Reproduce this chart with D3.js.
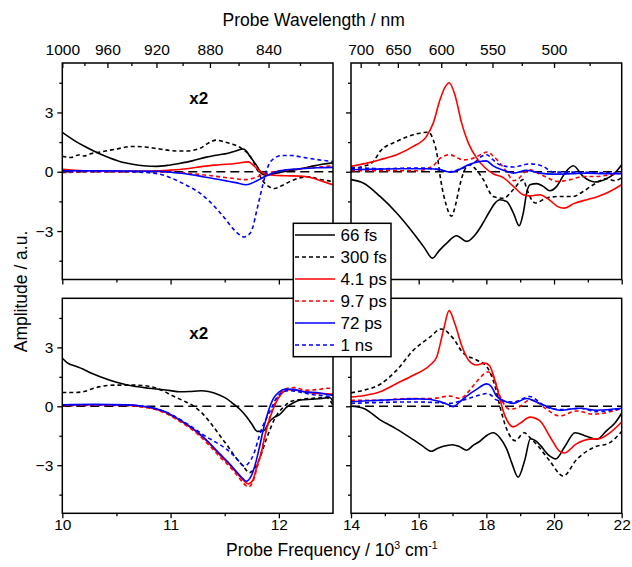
<!DOCTYPE html>
<html>
<head>
<meta charset="utf-8">
<script src="https://cdn.jsdelivr.net/npm/d3@7"></script>
<style>
  body { margin: 0; background: #fff; }
  svg { font-family: "Liberation Sans", Arial, sans-serif; }
</style>
</head>
<body>
<svg id="chart" width="632" height="567"></svg>
<script>
// Legend / series styles
const seriesNames = ['66 fs', '300 fs', '4.1 ps', '9.7 ps', '72 ps', '1 ns'];
const seriesColors = ['#000000', '#000000', '#ff0000', '#ff0000', '#0000ff', '#0000ff'];
const seriesDashed = [false, true, false, true, false, true];

// Tick values
const ampTicks = [-3, 0, 3];
const ampMinor = [-4.5, -1.5, 1.5, 4.5];
const leftFreqTicks = [10, 11, 12];
const leftFreqMinor = [10.5, 11.5];
const rightFreqTicks = [14, 16, 18, 20, 22];
const rightFreqMinor = [15, 17, 19, 21];
const leftWlTicks = [1000, 960, 920, 880, 840];
const leftWlMinor = [980, 940, 900, 860, 820];
const rightWlTicks = [700, 650, 600, 550, 500];
const rightWlMinor = [675, 625, 575, 525, 475];

// ---- top-left panel (x2), [frequency, amplitude]
const tl66 = [[10.0, 2.0], [10.05, 1.8], [10.12, 1.55], [10.2, 1.3], [10.29, 1.05], [10.4, 0.78], [10.53, 0.52], [10.65, 0.38], [10.75, 0.3], [10.87, 0.27], [10.97, 0.32], [11.08, 0.42], [11.2, 0.55], [11.33, 0.74], [11.45, 0.86], [11.52, 0.92], [11.6, 1.05], [11.67, 1.15], [11.7, 1.05], [11.73, 0.8], [11.77, 0.5], [11.8, 0.27], [11.84, -0.1], [11.88, -0.18], [11.94, -0.12], [12.02, -0.02], [12.1, 0.05], [12.2, 0.15], [12.3, 0.27], [12.4, 0.38], [12.5, 0.45]];
const tl300 = [[10.0, 0.78], [10.08, 0.72], [10.15, 0.85], [10.2, 0.8], [10.27, 0.92], [10.35, 1.0], [10.5, 1.15], [10.65, 1.28], [10.77, 1.25], [10.9, 1.15], [11.05, 1.05], [11.15, 1.05], [11.27, 1.18], [11.35, 1.45], [11.42, 1.6], [11.5, 1.5], [11.58, 1.38], [11.65, 1.2], [11.7, 1.0], [11.74, 0.75], [11.8, 0.1], [11.85, -0.45], [11.9, -0.72], [11.96, -0.85], [12.03, -0.7], [12.1, -0.5], [12.2, -0.3], [12.28, -0.25], [12.37, -0.38], [12.45, -0.45], [12.5, -0.5]];
const tl41 = [[10.0, 0.12], [10.2, 0.05], [10.5, 0.02], [10.8, 0.03], [11.0, 0.08], [11.15, 0.15], [11.3, 0.27], [11.45, 0.35], [11.6, 0.42], [11.72, 0.5], [11.77, 0.3], [11.82, 0.05], [11.87, -0.1], [11.95, -0.18], [12.05, -0.2], [12.2, -0.22], [12.3, -0.3], [12.4, -0.48], [12.5, -0.66]];
const tl97 = [[10.0, -0.05], [10.3, 0.0], [10.7, 0.0], [11.0, -0.02], [11.2, -0.1], [11.4, -0.22], [11.55, -0.32], [11.7, -0.4], [11.78, -0.3], [11.85, -0.15], [11.95, 0.0], [12.1, 0.1], [12.3, 0.2], [12.5, 0.3]];
const tl72 = [[10.0, 0.05], [10.3, 0.05], [10.6, 0.04], [10.9, 0.02], [11.1, -0.08], [11.3, -0.25], [11.5, -0.45], [11.6, -0.55], [11.7, -0.66], [11.78, -0.5], [11.85, -0.3], [11.94, -0.07], [12.05, 0.08], [12.2, 0.15], [12.35, 0.2], [12.5, 0.22]];
const tl1ns = [[10.0, 0.0], [10.4, 0.02], [10.8, -0.05], [10.95, -0.2], [11.08, -0.5], [11.18, -0.78], [11.27, -1.08], [11.35, -1.45], [11.43, -1.9], [11.5, -2.35], [11.58, -2.9], [11.64, -3.2], [11.68, -3.3], [11.72, -3.2], [11.76, -2.8], [11.79, -2.1], [11.82, -1.4], [11.85, -0.7], [11.88, -0.07], [11.91, 0.4], [11.95, 0.65], [12.03, 0.82], [12.12, 0.82], [12.2, 0.75], [12.3, 0.66], [12.4, 0.58], [12.5, 0.52]];

// ---- top-right panel
const tr66 = [[14.0, -0.4], [14.36, -0.57], [14.86, -1.25], [15.35, -2.09], [15.84, -3.1], [16.15, -3.8], [16.41, -4.37], [16.6, -4.0], [16.83, -3.61], [17.12, -3.24], [17.42, -3.52], [17.71, -3.1], [17.9, -2.6], [18.1, -2.0], [18.25, -1.6], [18.4, -1.42], [18.6, -1.5], [18.8, -2.09], [18.97, -2.73], [19.09, -2.09], [19.2, -1.0], [19.29, -0.66], [19.49, -0.6], [19.68, -0.74], [19.88, -0.96], [20.08, -0.74], [20.32, -0.07], [20.57, 0.3], [20.86, -0.24], [21.2, -0.52], [21.55, -0.35], [21.75, -0.15], [22.0, 0.35]];
const tr300 = [[14.0, 0.15], [14.36, 0.27], [14.66, 0.52], [14.86, 1.03], [15.35, 1.53], [15.84, 1.87], [16.28, 2.0], [16.43, 1.62], [16.55, 0.8], [16.65, -0.4], [16.8, -1.6], [16.97, -2.25], [17.1, -1.6], [17.2, -0.8], [17.32, -0.07], [17.5, 0.35], [17.7, 0.1], [17.91, -0.4], [18.2, -1.25], [18.5, -1.34], [18.8, -0.9], [19.09, -0.4], [19.2, -0.9], [19.35, -1.45], [19.45, -1.58], [19.78, -1.33], [20.17, -1.25], [20.57, -1.25], [20.86, -1.0], [21.16, -0.66], [21.55, -0.35], [21.8, -0.45], [22.0, -0.3]];
const tr41 = [[14.0, 0.27], [14.5, 0.45], [14.86, 0.61], [15.35, 0.86], [15.84, 1.28], [16.23, 1.79], [16.43, 2.46], [16.63, 3.64], [16.78, 4.28], [16.9, 4.5], [17.07, 3.9], [17.27, 2.46], [17.47, 1.45], [17.71, 0.7], [17.96, 0.2], [18.2, -0.1], [18.5, -0.3], [18.8, -0.74], [19.09, -1.16], [19.3, -1.22], [19.58, -1.16], [19.88, -1.45], [20.1, -1.75], [20.3, -1.84], [20.6, -1.6], [21.0, -1.4], [21.3, -1.25], [21.65, -1.0], [22.0, -0.66]];
const tr97 = [[14.0, 0.05], [14.5, 0.05], [15.0, 0.05], [15.5, 0.05], [15.94, 0.05], [16.2, 0.12], [16.43, 0.3], [16.65, 0.7], [16.92, 0.86], [17.15, 0.7], [17.32, 0.6], [17.55, 0.65], [17.75, 0.8], [18.03, 1.0], [18.2, 0.8], [18.4, 0.44], [18.6, 0.0], [18.8, -0.45], [18.95, -0.35], [19.15, 0.0], [19.29, 0.1], [19.5, -0.05], [19.8, -0.3], [20.1, -0.49], [20.47, -0.4], [20.86, -0.24], [21.26, -0.24], [21.65, -0.15], [22.0, -0.07]];
const tr72 = [[14.0, 0.1], [14.5, 0.12], [15.0, 0.14], [15.5, 0.15], [15.94, 0.15], [16.3, 0.15], [16.6, 0.12], [16.8, 0.02], [16.95, -0.02], [17.12, 0.05], [17.35, 0.25], [17.55, 0.4], [17.81, 0.52], [18.0, 0.55], [18.2, 0.3], [18.5, 0.08], [18.8, -0.07], [19.19, 0.07], [19.58, -0.07], [19.98, -0.12], [20.5, -0.1], [21.0, -0.07], [21.5, -0.1], [22.0, -0.1]];
const tr1ns = [[14.0, 0.2], [14.5, 0.18], [14.95, 0.15], [15.5, 0.18], [15.94, 0.19], [16.3, 0.17], [16.6, 0.1], [16.92, 0.0], [17.12, 0.08], [17.32, 0.19], [17.55, 0.38], [17.71, 0.55], [17.85, 0.77], [18.01, 0.86], [18.2, 0.6], [18.4, 0.35], [18.8, 0.24], [19.29, 0.4], [19.68, 0.27], [19.98, -0.02], [20.5, -0.02], [21.0, -0.03], [21.5, -0.05], [22.0, -0.07]];

// ---- bottom-left panel (x2)
const bl66 = [[10.0, 2.45], [10.05, 2.2], [10.12, 2.05], [10.19, 1.9], [10.27, 1.68], [10.35, 1.5], [10.5, 1.22], [10.65, 1.03], [10.8, 0.92], [10.9, 0.86], [11.0, 0.8], [11.08, 0.74], [11.17, 0.75], [11.28, 0.79], [11.35, 0.75], [11.45, 0.57], [11.52, 0.38], [11.58, 0.12], [11.64, -0.15], [11.7, -0.52], [11.75, -0.9], [11.8, -1.28], [11.86, -1.25], [11.91, -0.8], [11.96, -0.55], [12.0, -0.45], [12.07, -0.05], [12.13, 0.17], [12.2, 0.32], [12.3, 0.36], [12.4, 0.4], [12.47, 0.45], [12.5, 0.25]];
const bl300 = [[10.0, 0.7], [10.1, 0.7], [10.2, 0.75], [10.27, 0.88], [10.35, 1.0], [10.5, 1.08], [10.65, 1.08], [10.8, 1.02], [10.9, 0.86], [10.97, 0.68], [11.05, 0.45], [11.12, 0.28], [11.21, 0.02], [11.3, -0.4], [11.39, -1.0], [11.47, -1.6], [11.54, -2.12], [11.6, -2.6], [11.67, -3.05], [11.73, -3.38], [11.77, -3.2], [11.82, -2.7], [11.87, -1.9], [11.91, -1.3], [11.96, -0.65], [12.0, -0.3], [12.05, 0.0], [12.1, 0.22], [12.2, 0.35], [12.3, 0.4], [12.44, 0.45], [12.5, 0.05]];
const bl41 = [[10.0, 0.05], [10.3, 0.08], [10.6, 0.06], [10.75, -0.02], [10.85, -0.12], [10.95, -0.3], [11.05, -0.6], [11.15, -0.95], [11.25, -1.35], [11.35, -1.85], [11.45, -2.45], [11.55, -3.0], [11.62, -3.45], [11.67, -3.75], [11.72, -3.95], [11.76, -3.75], [11.8, -3.0], [11.84, -2.3], [11.88, -1.3], [11.92, -0.55], [11.97, 0.15], [12.02, 0.6], [12.08, 0.84], [12.15, 0.82], [12.25, 0.74], [12.35, 0.66], [12.45, 0.64], [12.5, 0.62]];
const bl97 = [[10.0, 0.02], [10.3, 0.05], [10.6, 0.03], [10.75, -0.05], [10.85, -0.15], [10.95, -0.35], [11.05, -0.65], [11.15, -1.0], [11.25, -1.42], [11.35, -1.95], [11.45, -2.55], [11.55, -3.1], [11.62, -3.55], [11.67, -3.9], [11.72, -4.1], [11.76, -3.85], [11.8, -3.1], [11.84, -2.3], [11.88, -1.3], [11.92, -0.5], [11.97, 0.25], [12.02, 0.7], [12.08, 0.92], [12.15, 0.95], [12.25, 0.82], [12.35, 0.85], [12.45, 0.92], [12.5, 0.88]];
const bl72 = [[10.0, 0.08], [10.3, 0.1], [10.6, 0.07], [10.75, 0.0], [10.85, -0.1], [10.95, -0.28], [11.05, -0.58], [11.15, -0.92], [11.25, -1.32], [11.35, -1.82], [11.45, -2.4], [11.55, -2.95], [11.62, -3.4], [11.67, -3.7], [11.7, -3.82], [11.74, -3.6], [11.78, -3.0], [11.82, -2.1], [11.86, -1.1], [11.9, -0.3], [11.95, 0.4], [12.0, 0.72], [12.07, 0.88], [12.15, 0.85], [12.25, 0.72], [12.35, 0.7], [12.45, 0.6], [12.5, 0.55]];
const bl1ns = [[10.0, 0.05], [10.3, 0.08], [10.6, 0.06], [10.75, 0.0], [10.85, -0.1], [10.95, -0.28], [11.05, -0.55], [11.15, -0.88], [11.25, -1.25], [11.33, -1.55], [11.42, -1.84], [11.52, -2.2], [11.6, -2.6], [11.64, -2.85], [11.68, -3.05], [11.72, -2.9], [11.77, -2.4], [11.82, -1.5], [11.86, -0.9], [11.9, -0.45], [11.94, 0.0], [11.97, 0.35], [12.03, 0.7], [12.1, 0.8], [12.2, 0.72], [12.3, 0.6], [12.4, 0.55], [12.5, 0.45]];

// ---- bottom-right panel
const br66 = [[14.0, 0.0], [14.36, -0.1], [14.86, -0.69], [15.35, -1.16], [15.84, -1.7], [16.1, -2.0], [16.38, -2.29], [16.55, -2.15], [16.73, -2.04], [17.0, -1.96], [17.2, -2.05], [17.42, -2.24], [17.6, -2.0], [17.81, -1.78], [18.0, -1.5], [18.2, -1.35], [18.4, -1.6], [18.6, -2.17], [18.75, -2.88], [18.94, -3.61], [19.14, -2.71], [19.3, -1.65], [19.45, -1.75], [19.59, -1.98], [19.85, -2.5], [20.05, -2.68], [20.32, -2.05], [20.62, -1.35], [20.96, -1.53], [21.26, -1.68], [21.55, -1.25], [21.8, -0.85], [22.0, -0.35]];
const br300 = [[14.0, 0.69], [14.36, 0.81], [14.86, 1.12], [15.35, 1.84], [15.84, 2.85], [16.33, 3.52], [16.67, 3.94], [17.02, 3.46], [17.32, 2.7], [17.71, 2.36], [18.01, 2.02], [18.26, 1.0], [18.4, 0.0], [18.6, -1.16], [18.85, -1.75], [19.12, -1.35], [19.29, -1.6], [19.59, -2.15], [19.88, -2.8], [20.27, -3.55], [20.67, -2.71], [21.16, -2.1], [21.65, -1.85], [22.0, -1.28]];
const br41 = [[14.0, 0.47], [14.4, 0.55], [14.86, 0.74], [15.35, 1.16], [15.84, 1.58], [16.33, 2.09], [16.53, 2.5], [16.73, 3.86], [16.9, 4.87], [17.07, 4.2], [17.27, 3.1], [17.47, 2.36], [17.71, 2.1], [17.96, 2.2], [18.1, 2.05], [18.3, 1.03], [18.54, -0.45], [18.8, -1.05], [19.0, -0.86], [19.29, -0.55], [19.59, -0.75], [19.88, -1.55], [20.17, -2.3], [20.3, -2.38], [20.67, -1.9], [21.06, -1.67], [21.35, -1.65], [21.65, -1.35], [22.0, -0.8]];
const br97 = [[14.0, 0.3], [14.5, 0.3], [15.0, 0.32], [15.5, 0.38], [15.94, 0.4], [16.4, 0.4], [16.92, 0.52], [17.22, 0.4], [17.5, 0.8], [17.71, 1.25], [18.06, 1.75], [18.2, 1.53], [18.4, 0.52], [18.7, -0.15], [18.95, -0.05], [19.29, 0.32], [19.55, 0.15], [19.78, -0.15], [20.17, -0.49], [20.67, -0.24], [21.16, -0.4], [21.75, -0.24], [22.0, -0.1]];
const br72 = [[14.0, 0.23], [14.5, 0.28], [15.0, 0.32], [15.5, 0.36], [15.94, 0.38], [16.3, 0.36], [16.6, 0.25], [16.92, 0.05], [17.02, -0.02], [17.2, 0.2], [17.42, 0.52], [17.71, 0.86], [18.01, 1.14], [18.15, 1.0], [18.3, 0.52], [18.6, 0.22], [18.8, 0.15], [19.19, 0.4], [19.5, 0.2], [19.78, 0.0], [20.17, -0.2], [20.77, -0.1], [21.26, -0.2], [22.0, -0.1]];
const br1ns = [[14.0, 0.15], [14.5, 0.18], [15.0, 0.2], [15.5, 0.22], [15.94, 0.22], [16.4, 0.2], [16.92, 0.15], [17.32, 0.32], [17.71, 0.52], [18.01, 0.65], [18.15, 0.55], [18.3, 0.32], [18.8, 0.22], [19.29, 0.5], [19.5, 0.3], [19.78, -0.05], [20.27, -0.17], [20.77, -0.1], [21.26, -0.27], [22.0, -0.12]];

const svg = d3.select('#chart');
const ampDomain = [-5.45, 5.5];
const tickFont = '15.5px';

// Panel layout
const panels = [
    { id: 'tl', data: [tl66, tl300, tl41, tl97, tl72, tl1ns], x: [62.3, 333], y: [63, 279.5], dom: [10, 12.5],
      major: leftFreqTicks, minor: leftFreqMinor, wl: leftWlTicks, wlMinor: leftWlMinor, top: true, left: true, x2: true },
    { id: 'tr', data: [tr66, tr300, tr41, tr97, tr72, tr1ns], x: [351, 621.7], y: [63, 279.5], dom: [14, 22],
      major: rightFreqTicks, minor: rightFreqMinor, wl: rightWlTicks, wlMinor: rightWlMinor, top: true, left: false },
    { id: 'bl', data: [bl66, bl300, bl41, bl97, bl72, bl1ns], x: [62.3, 333], y: [298.3, 513.3], dom: [10, 12.5],
      major: leftFreqTicks, minor: leftFreqMinor, top: false, left: true, x2: true },
    { id: 'br', data: [br66, br300, br41, br97, br72, br1ns], x: [351, 621.7], y: [298.3, 513.3], dom: [14, 22],
      major: rightFreqTicks, minor: rightFreqMinor, top: false, left: false }
];

function styleAxis(g) {
    g.select('.domain').remove();
    g.selectAll('line').attr('stroke', '#000').attr('stroke-width', 1.3);
    g.selectAll('text').attr('fill', '#000').style('font-size', tickFont);
}

panels.forEach(p => {
    const xScale = d3.scaleLinear().domain(p.dom).range(p.x);
    const yScale = d3.scaleLinear().domain(ampDomain).range([p.y[1], p.y[0]]);
    const w = p.x[1] - p.x[0], h = p.y[1] - p.y[0];

    svg.append('clipPath').attr('id', 'clip-' + p.id)
        .append('rect').attr('x', p.x[0]).attr('y', p.y[0]).attr('width', w).attr('height', h);

    // zero line
    svg.append('line')
        .attr('x1', p.x[0]).attr('x2', p.x[1])
        .attr('y1', yScale(0)).attr('y2', yScale(0))
        .attr('stroke', '#000').attr('stroke-width', 1.6)
        .attr('stroke-dasharray', '9,5');

    const line = d3.line()
        .x(d => xScale(d[0]))
        .y(d => yScale(d[1]))
        .curve(d3.curveMonotoneX);

    const g = svg.append('g').attr('clip-path', `url(#clip-${p.id})`);
    p.data.forEach((s, i) => {
        g.append('path')
            .datum(s)
            .attr('fill', 'none')
            .attr('stroke', seriesColors[i])
            .attr('stroke-width', 1.6)
            .attr('stroke-dasharray', seriesDashed[i] ? '4,3' : null)
            .attr('d', line);
    });

    // frame
    svg.append('rect')
        .attr('x', p.x[0]).attr('y', p.y[0]).attr('width', w).attr('height', h)
        .attr('fill', 'none').attr('stroke', '#000').attr('stroke-width', 1.5);

    // bottom axis (outward ticks)
    svg.append('g').attr('transform', `translate(0,${p.y[1]})`)
        .call(d3.axisBottom(xScale).tickValues(p.major).tickSize(5).tickPadding(1)
            .tickFormat(p.top ? '' : d3.format('d')))
        .call(styleAxis);
    svg.append('g').attr('transform', `translate(0,${p.y[1]})`)
        .call(d3.axisBottom(xScale).tickValues(p.minor).tickSize(3).tickFormat(''))
        .call(styleAxis);

    // left axis (outward ticks)
    svg.append('g').attr('transform', `translate(${p.x[0]},0)`)
        .call(d3.axisLeft(yScale).tickValues(ampTicks).tickSize(5).tickPadding(4)
            .tickFormat(p.left ? d3.format('d') : ''))
        .call(styleAxis);
    svg.append('g').attr('transform', `translate(${p.x[0]},0)`)
        .call(d3.axisLeft(yScale).tickValues(ampMinor).tickSize(3).tickFormat(''))
        .call(styleAxis);

    // top wavelength axis (inward ticks)
    if (p.top) {
        const wlScale = d3.scaleLinear().domain(p.dom.map(v => 10000 / v)).range(p.x);
        const toX = nm => xScale(10000 / nm);
        const wlAxis = d3.axisTop(d3.scaleIdentity().domain([0, 632]))
            .tickValues(p.wl.map(toX)).tickSize(-5).tickPadding(8)
            .tickFormat((d, i) => p.wl[i]);
        svg.append('g').attr('transform', `translate(0,${p.y[0]})`).call(wlAxis).call(styleAxis);
        svg.append('g').attr('transform', `translate(0,${p.y[0]})`)
            .call(d3.axisTop(d3.scaleIdentity().domain([0, 632]))
                .tickValues(p.wlMinor.map(toX)).tickSize(-3).tickFormat(''))
            .call(styleAxis);
    }

    if (p.x2) {
        svg.append('text')
            .attr('x', xScale(p.dom[0] + 1.26)).attr('y', p.y[0] + 41)
            .attr('text-anchor', 'middle')
            .style('font-size', '17px').style('font-weight', 'bold')
            .text('x2');
    }
});

// Axis titles
svg.append('text')
    .attr('x', 222.5).attr('y', 26)
    .style('font-size', '17.5px')
    .text('Probe Wavelength / nm');

const xt = svg.append('text')
    .attr('x', 226).attr('y', 556)
    .style('font-size', '17.5px');
xt.append('tspan').text('Probe Frequency / 10');
xt.append('tspan').attr('dy', -7).style('font-size', '10.5px').text('3');
xt.append('tspan').attr('dy', 7).text(' cm');
xt.append('tspan').attr('dy', -7).style('font-size', '10.5px').text('-1');

svg.append('text')
    .attr('transform', 'translate(27,291.5) rotate(-90)')
    .attr('text-anchor', 'middle')
    .style('font-size', '17.5px')
    .text('Amplitude / a.u.');

// Legend
const legend = svg.append('g');
legend.append('rect')
    .attr('x', 293.3).attr('y', 223.3).attr('width', 97.7).attr('height', 133.4)
    .attr('fill', '#fff').attr('stroke', '#000').attr('stroke-width', 1.5);
seriesNames.forEach((name, i) => {
    const yy = 235 + i * 22;
    legend.append('line')
        .attr('x1', 295).attr('x2', 335).attr('y1', yy).attr('y2', yy)
        .attr('stroke', seriesColors[i]).attr('stroke-width', 1.6)
        .attr('stroke-dasharray', seriesDashed[i] ? '4,3' : null);
    legend.append('text')
        .attr('x', 340.5).attr('y', yy + 6.2)
        .style('font-size', '17px')
        .text(name);
});
</script>
</body>
</html>
